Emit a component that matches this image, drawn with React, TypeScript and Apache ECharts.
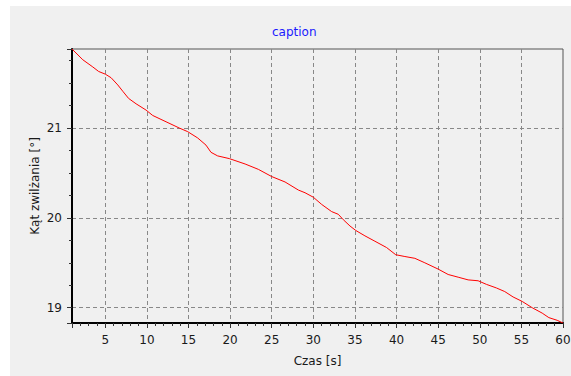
import React, { useEffect, useRef } from 'react';
import * as echarts from 'echarts';

const titleText = 'caption';
const xAxisName = 'Czas [s]';
const yAxisName = 'Kąt zwilżania [°]';

const timeS = [
  1, 2.3, 3.5, 4.2, 5.0, 5.7, 6.5, 7.1, 7.8, 8.7, 9.9, 10.7, 12.3, 13.9, 14.9,
  16.1, 17.1, 17.7, 18.5, 19.9, 21.8, 23.4, 25.0, 26.6, 28.2, 29.0, 30.0, 31.0,
  32.2, 33.0, 33.6, 34.4, 35.1, 36.2, 37.4, 38.8, 39.9, 41.0, 42.2, 43.4, 45.0,
  46.2, 47.4, 48.6, 49.8, 50.8, 52.0, 53.0, 54.0, 55.1, 56.3, 57.5, 58.3, 59.3, 60,
];
const angleDeg = [
  21.88, 21.76, 21.68, 21.63, 21.6, 21.56, 21.48, 21.41, 21.33, 21.27, 21.2, 21.14,
  21.07, 21.0, 20.96, 20.89, 20.81, 20.73, 20.69, 20.66, 20.6, 20.54, 20.46, 20.4,
  20.31, 20.28, 20.23, 20.15, 20.07, 20.04, 19.98, 19.91, 19.86, 19.8, 19.74, 19.67,
  19.59, 19.57, 19.55, 19.5, 19.43, 19.37, 19.34, 19.31, 19.3, 19.26, 19.22, 19.18,
  19.12, 19.07, 19.0, 18.94, 18.89, 18.86, 18.83,
];

const FONT = 'DejaVu Sans';

export default function App() {
  const ref = useRef<HTMLDivElement>(null);
  useEffect(() => {
    if (!ref.current) return;
    const chart = echarts.init(ref.current, null, { renderer: 'svg' });
    const data = timeS.map((t, i) => [t, angleDeg[i]]);
    chart.setOption({
      animation: false,
      backgroundColor: '#f0f0f0',
      title: {
        text: titleText,
        left: 262,
        top: 20,
        padding: 0,
        textStyle: { color: '#1a1aff', fontFamily: FONT, fontSize: 12, fontWeight: 'normal' },
      },
      grid: {
        left: 62,
        top: 43,
        right: 8,
        bottom: 53,
        show: true,
        backgroundColor: 'transparent',
        borderColor: '#555',
        borderWidth: 1,
        containLabel: false,
        outerBoundsMode: 'none',
      },
      xAxis: {
        type: 'value',
        min: 'dataMin',
        max: 'dataMax',
        splitNumber: 12,
        name: xAxisName,
        nameLocation: 'middle',
        nameGap: 32,
        nameMoveOverlap: false,
        nameTextStyle: { color: '#1a1a1a', fontFamily: FONT, fontSize: 12 },
        axisLine: { show: true, onZero: false, lineStyle: { color: '#000', width: 2 } },
        axisTick: { show: true, length: 5, lineStyle: { color: '#333' } },
        minorTick: { show: true, splitNumber: 5, length: 3, lineStyle: { color: '#333' } },
        axisLabel: {
          color: '#1a1a1a',
          fontFamily: FONT,
          fontSize: 12,
          margin: 11,
          showMinLabel: false,
          showMaxLabel: true,
        },
        splitLine: {
          show: true,
          showMinLine: false,
          showMaxLine: false,
          lineStyle: { color: '#888', type: [4, 3], width: 1 },
        },
      },
      yAxis: {
        type: 'value',
        min: 'dataMin',
        max: 'dataMax',
        splitNumber: 3,
        name: yAxisName,
        nameLocation: 'middle',
        nameGap: 31,
        nameMoveOverlap: false,
        nameTextStyle: { color: '#1a1a1a', fontFamily: FONT, fontSize: 12 },
        axisLine: { show: true, onZero: false, lineStyle: { color: '#000', width: 2 } },
        axisTick: { show: true, length: 5, lineStyle: { color: '#333' } },
        minorTick: { show: true, splitNumber: 4, length: 3, lineStyle: { color: '#333' } },
        axisLabel: {
          color: '#1a1a1a',
          fontFamily: FONT,
          fontSize: 12,
          margin: 10,
          showMinLabel: false,
          showMaxLabel: false,
        },
        splitLine: {
          show: true,
          showMinLine: false,
          showMaxLine: false,
          lineStyle: { color: '#888', type: [4, 3], width: 1 },
        },
      },
      series: [
        {
          type: 'line',
          data,
          showSymbol: false,
          lineStyle: { color: '#ff0000', width: 1 },
          itemStyle: { color: '#ff0000' },
        },
      ],
    });
    return () => chart.dispose();
  }, []);
  return (
    <div
      ref={ref}
      style={{ position: 'absolute', left: 10, top: 6, width: 561, height: 370, background: '#f0f0f0' }}
    />
  );
}
